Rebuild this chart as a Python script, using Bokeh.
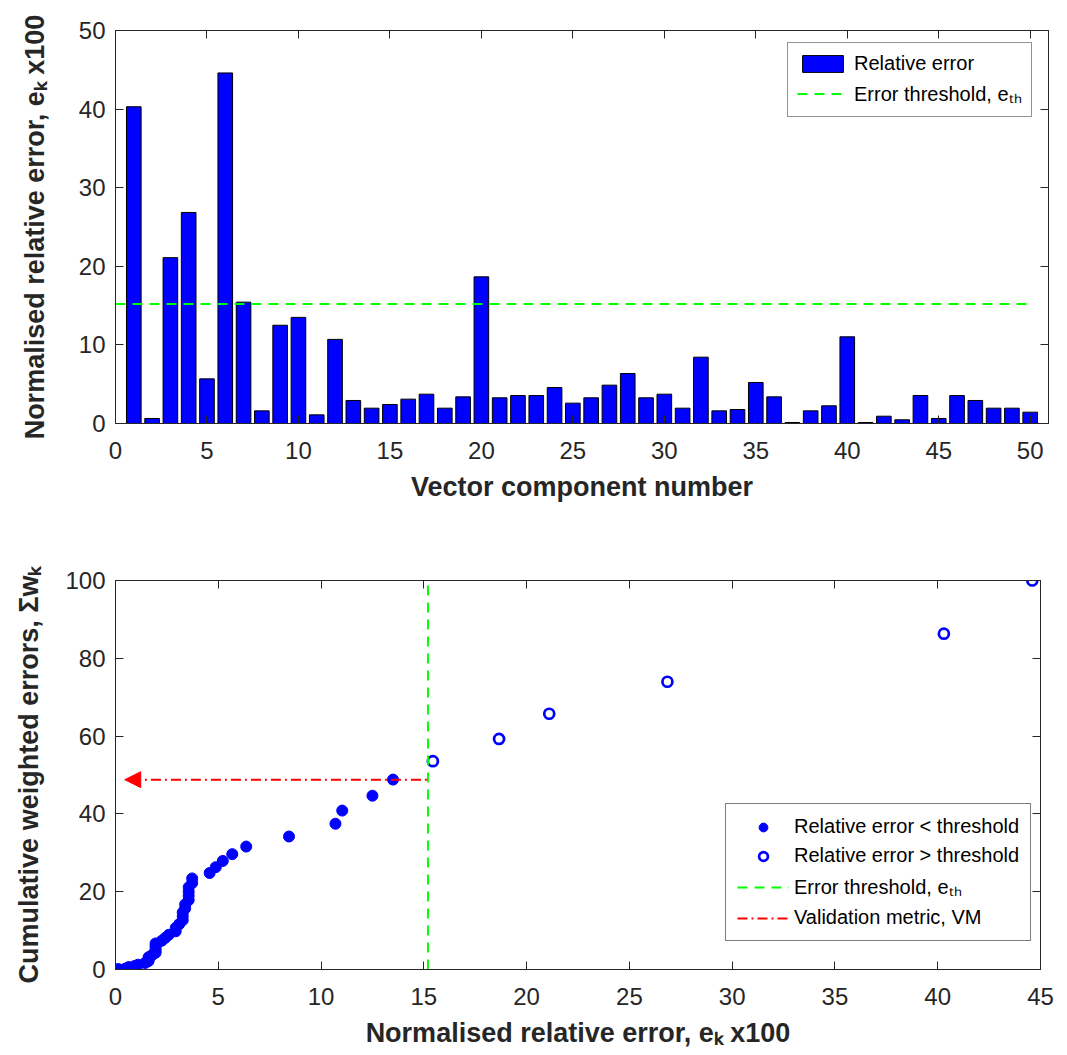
from bokeh.plotting import figure
from bokeh.models import (Range1d, LinearAxis, FixedTicker, Legend, LegendItem,
                          Arrow, NormalHead)
from bokeh.layouts import column
from bokeh.embed import file_html
from bokeh.resources import INLINE

# ---------------- data ----------------
components = list(range(1, 51))
rel_error = [40.3, 0.64, 21.1, 26.85, 5.68, 44.6, 15.44, 1.61, 12.5, 13.5,
             1.1, 10.7, 2.93, 1.95, 2.42, 3.1, 3.73, 1.95, 3.39, 18.66,
             3.27, 3.56, 3.56, 4.58, 2.59, 3.27, 4.88, 6.36, 3.27, 3.73,
             1.95, 8.44, 1.61, 1.78, 5.22, 3.39, 0.13, 1.61, 2.25, 11.03,
             0.13, 0.93, 0.47, 3.56, 0.64, 3.56, 2.93, 1.95, 1.95, 1.44]
threshold = 15.2

below_x = [0.13, 0.13, 0.47, 0.64, 0.64, 0.93, 1.10, 1.44, 1.61, 1.61, 1.61, 1.78,
           1.95, 1.95, 1.95, 1.95, 1.95, 2.25, 2.42, 2.59, 2.93, 2.93, 3.10, 3.27,
           3.27, 3.27, 3.39, 3.39, 3.56, 3.56, 3.56, 3.56, 3.73, 3.73, 4.58, 4.88,
           5.22, 5.68, 6.36, 8.44, 10.70, 11.03, 12.50, 13.50]
below_y = [0.04, 0.08, 0.22, 0.42, 0.62, 0.90, 1.24, 1.68, 2.17, 2.67, 3.16, 3.71,
           4.30, 4.90, 5.50, 6.10, 6.70, 7.39, 8.13, 8.92, 9.82, 10.72, 11.67, 12.67,
           13.67, 14.68, 15.71, 16.75, 17.85, 18.94, 20.03, 21.12, 22.26, 23.41, 24.81, 26.31,
           27.91, 29.65, 31.60, 34.19, 37.47, 40.85, 44.68, 48.82]
above_x = [15.44, 18.66, 21.10, 26.85, 40.30, 44.60]
above_y = [53.55, 59.27, 65.74, 73.97, 86.33, 100.0]
vm = 48.8
vm_arrow_tip = 0.45

top_xticks = [0, 5, 10, 15, 20, 25, 30, 35, 40, 45, 50]
top_yticks = [0, 10, 20, 30, 40, 50]
bot_xticks = [0, 5, 10, 15, 20, 25, 30, 35, 40, 45]
bot_yticks = [0, 20, 40, 60, 80, 100]

FONT = "Liberation Sans"
AX = "#262626"


def mirror_axis(ticks):
    return LinearAxis(ticker=FixedTicker(ticks=ticks),
                      major_label_overrides={t: "" for t in ticks},
                      major_label_text_font_size="10px",
                      major_tick_in=8, major_tick_out=0, minor_tick_line_color=None,
                      axis_line_color=AX, major_tick_line_color=AX, major_label_standoff=0)


def style_axes(p, xticks, yticks, ylabel_standoff):
    for ax in p.xaxis + p.yaxis:
        ax.axis_line_color = AX
        ax.major_tick_line_color = AX
        ax.major_tick_in = 8
        ax.major_tick_out = 0
        ax.minor_tick_line_color = None
        ax.major_label_text_font = FONT
        ax.major_label_text_font_size = "24px"
        ax.major_label_text_color = AX
        ax.axis_label_text_font = FONT
        ax.axis_label_text_font_size = "27px"
        ax.axis_label_text_font_style = "bold"
        ax.axis_label_text_color = AX
    p.xaxis[0].ticker = FixedTicker(ticks=xticks)
    p.yaxis[0].ticker = FixedTicker(ticks=yticks)
    p.xaxis[0].major_label_standoff = 18
    p.yaxis[0].major_label_standoff = 10
    p.xaxis[0].axis_label_standoff = 10
    p.yaxis[0].axis_label_standoff = ylabel_standoff
    p.add_layout(mirror_axis(xticks), "above")
    p.add_layout(mirror_axis(yticks), "right")
    p.grid.visible = False
    p.outline_line_color = AX


# ---------------- top chart ----------------
p1 = figure(frame_width=933, frame_height=393, output_backend="svg", toolbar_location=None,
            x_range=Range1d(0, 51), y_range=Range1d(0, 50),
            min_border_left=115, min_border_top=30, min_border_right=11, min_border_bottom=80)
bars = p1.vbar(x=components, top=rel_error, width=0.8, fill_color="#0000FF",
               line_color="black", line_width=1)
thr1 = p1.line(x=[0, 50], y=[threshold, threshold], line_color="#00FF00", line_width=2,
               line_dash="10 7")
p1.xaxis.axis_label = "Vector component number"
p1.yaxis.axis_label = "Normalised relative error, eₖ x100"
style_axes(p1, top_xticks, top_yticks, 26)

leg1 = Legend(items=[LegendItem(label="Relative error", renderers=[bars]),
                     LegendItem(label="Error threshold, eₜₕ", renderers=[thr1])],
              location=(672, 306))
leg1.label_text_font = FONT
leg1.label_text_font_size = "20px"
leg1.label_text_color = "black"
leg1.glyph_width = 51
leg1.glyph_height = 21
leg1.label_height = 21
leg1.spacing = 5
leg1.padding = 9
leg1.label_standoff = 6
leg1.border_line_color = AX
leg1.border_line_width = 1
p1.add_layout(leg1)

# ---------------- bottom chart ----------------
p2 = figure(frame_width=925, frame_height=389, output_backend="svg", toolbar_location=None,
            x_range=Range1d(0, 45), y_range=Range1d(0, 100),
            min_border_left=115, min_border_top=76, min_border_right=19, min_border_bottom=75)
below = p2.scatter(x=below_x, y=below_y, size=11, marker="circle",
                   fill_color="#0000FF", line_color="#0000FF")
above = p2.scatter(x=above_x, y=above_y, size=10, marker="circle",
                   fill_color="white", line_color="#0000FF", line_width=2.7)
thr2 = p2.line(x=[threshold, threshold], y=[0, 100], line_color="#00FF00", line_width=2,
               line_dash="10 7")
vml = p2.line(x=[vm_arrow_tip + 0.3, threshold], y=[vm, vm], line_color="#FF0000",
              line_width=2, line_dash="10 4 2 4")
p2.add_layout(Arrow(end=NormalHead(size=16, fill_color="#FF0000", line_color="#FF0000"),
                    x_start=vm_arrow_tip + 1.0, y_start=vm, x_end=vm_arrow_tip, y_end=vm,
                    line_alpha=0))
p2.xaxis.axis_label = "Normalised relative error, eₖ x100"
p2.yaxis.axis_label = "Cumulative weighted errors, Σwₖ"
style_axes(p2, bot_xticks, bot_yticks, 18)

leg2 = Legend(items=[LegendItem(label="Relative error < threshold", renderers=[below]),
                     LegendItem(label="Relative error > threshold", renderers=[above]),
                     LegendItem(label="Error threshold, eₜₕ", renderers=[thr2]),
                     LegendItem(label="Validation metric, VM", renderers=[vml])],
              location=(610, 28))
leg2.label_text_font = FONT
leg2.label_text_font_size = "20px"
leg2.label_text_color = "black"
leg2.glyph_width = 52
leg2.glyph_height = 22
leg2.label_height = 22
leg2.spacing = 6
leg2.padding = 11
leg2.label_standoff = 5
leg2.border_line_color = "black"
leg2.border_line_width = 1.5
p2.add_layout(leg2)

layout = column(p1, p2)
open("out.html", "w").write(file_html(layout, INLINE))
